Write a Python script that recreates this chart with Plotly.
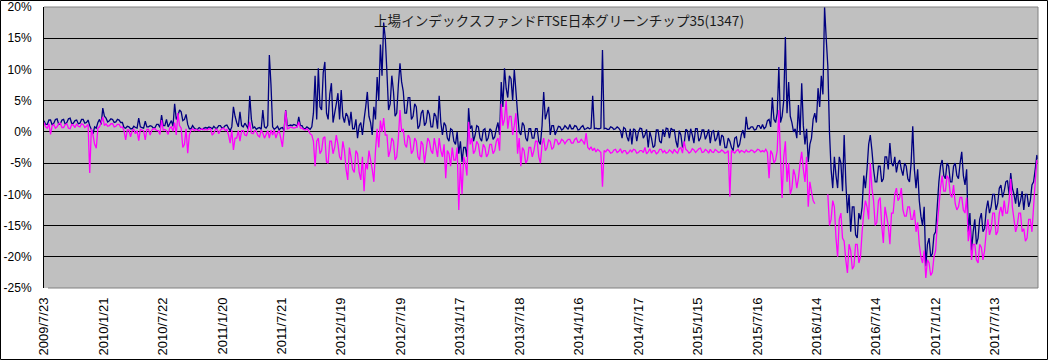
import plotly.graph_objects as go
import pandas as pd

TITLE = "上場インデックスファンドFTSE日本グリーンチップ35(1347)"
START_DATE = "2009-07-23"
END_DATE = "2017-11-21 12:00"

x_tick_dates = ["2009-07-23", "2010-01-21", "2010-07-22", "2011-01-20", "2011-07-21",
                "2012-01-19", "2012-07-19", "2013-01-17", "2013-07-18", "2014-01-16",
                "2014-07-17", "2015-01-15", "2015-07-16", "2016-01-14", "2016-07-14",
                "2017-01-12", "2017-07-13"]
x_tick_labels = ["2009/7/23", "2010/1/21", "2010/7/22", "2011/1/20", "2011/7/21",
                 "2012/1/19", "2012/7/19", "2013/1/17", "2013/7/18", "2014/1/16",
                 "2014/7/17", "2015/1/15", "2015/7/16", "2016/1/14", "2016/7/14",
                 "2017/1/12", "2017/7/13"]
y_tick_vals = [20, 15, 10, 5, 0, -5, -10, -15, -20, -25]
y_tick_labels = ["20%", "15%", "10%", "5%", "0%", "-5%", "-10%", "-15%", "-20%", "-25%"]

# navy series (%): values read on day 0, 10, 20, ... from START_DATE
navy_a = [
    1.8, 1.2, 1.9, 1.4, 2.1, 1.3, 2.0, 1.5, 2.2, 1.4,
    1.9, 1.4, 2.0, 1.5, 1.0, -0.3, 0.6, 2.0, 3.8, 2.2,
    1.8, 2.0, 1.6, 1.9, 1.5, 0.6, 0.8, 0.5, 0.7, 2.2,
    0.7, 1.7, 0.8, 0.9, 0.7, 1.2, 2.7, 1.0, 0.8, 1.8,
    4.5, 2.6, 3.2, 2.0, 1.2, 0.5, 0.6, 0.4, 0.5, 0.6,
    0.6, 0.7, 0.9, 0.6, 1.0, 0.7, 1.1, 0.2, 4.0, 1.5,
    3.2, 0.8, 1.0, 5.8, 0.6, 0.4, 0.7, 3.5, 0.6, 12.3,
    0.8, 0.6, 0.3, 0.7, 3.5, 1.0, 1.0, 1.1, 2.4, 1.0,
    0.5, 0.6, 0.8, 9.0, 10.2, 3.5, 11.2, 2.0, 7.8, 3.0,
    6.2, 6.7, 1.5, 2.5, 3.2, 0.5, -1.0, 1.5, 2.0, 6.4,
    1.5, 4.0, 8.8, 14.0, 17.5, 9.5, 4.5, 6.5, 3.0, 11.0,
    6.5, 3.0, 5.5, 2.5, 4.0, 1.0, 3.5, 1.5, 2.8, 0.8,
    2.5, 5.8, -0.5, 1.0, -1.5, 0.3, -2.0, -3.5, -4.8, -2.5,
    3.8, 1.0, -0.5, 0.8, -1.5, 0.5, -1.0, 0.2, -0.8, 1.5,
    8.0, 10.2, 5.5, 8.5, 10.0, 3.0, -0.5, 1.0, -1.5, 0.5,
    -1.0, 0.5, -2.0, 6.4, 3.0, -0.5, 1.0, 0.2, 0.8, 0.5,
    0.7, 1.2, 0.5, 0.9, 0.4, 1.0, 0.5, 0.5, 5.8, 0.6,
    0.5, 13.1, 0.6, 0.4, 0.7, 0.5, 0.6, -1.0, 0.5, -1.5,
    -2.0, 0.3, 0.0, 0.5, -0.5, -2.5, -1.0, -2.2, 0.3, -1.8,
    -0.8, 0.5, 0.6, 0.3, -2.5, -0.5, -2.0, 0.2, 0.5, -1.8,
    0.5, -1.0, 0.3, -0.5, -1.8, 0.2, -1.0, -2.2, -0.8, -2.5,
    -1.5, -3.0, -0.8, -2.0, 0.3, 2.4, 0.5, 0.8, 0.4, 1.0,
    1.2, 0.8, 2.0, 5.5, 1.5, 10.4, 2.5, 15.2, 8.0, 1.5,
    0.5, 4.3, 7.8, -2.0, -4.8, -1.0, 3.0, 7.0, 9.0, 20.0,
    10.5, -6.0, -4.0, -9.0, -5.0, -0.5, -13.0, -16.0, -12.0, -17.0,
    -14.0, -7.0, -6.0, -0.5, -6.0, -8.0, -5.5, -7.5, -4.0, -1.8,
    -5.5, -6.5, -4.5, -7.0, -5.5, -8.0, 0.9, -9.0, -11.0, -15.0,
    -21.5, -17.0, -19.5, -16.0, -8.0, -4.5, -7.5, -5.5, -8.0, -5.0,
    -7.5, -3.2, -8.5, -16.0, -19.0, -14.0, -17.0, -13.0, -15.5, -11.0,
    -12.0, -10.0, -11.5, -8.5, -9.5, -7.8, -6.6, -10.0, -9.0, -11.0,
    -12.5, -10.0, -11.0, -8.0, -3.7,
]
# navy series (%): values read on day 5, 15, 25, ... (other edge of the daily band)
navy_b = [
    1.2, 1.9, 1.1, 2.0, 1.2, 1.9, 1.2, 2.1, 1.3, 1.8,
    1.3, 2.0, 1.4, 1.9, 0.4, 0.8, 1.5, 1.2, 2.5, 1.6,
    2.1, 1.5, 2.0, 1.5, 0.7, 0.9, 0.5, 0.9, 0.6, 0.8,
    0.6, 0.8, 1.0, 0.6, 1.2, 0.7, 1.0, 2.0, 1.3, 0.9,
    2.0, 3.5, 1.8, 2.8, 0.5, 1.0, 0.4, 0.7, 0.4, 0.7,
    0.8, 0.5, 0.6, 1.0, 0.6, 1.0, 0.6, 0.8, 2.5, 0.8,
    1.0, 1.4, 0.5, 2.0, 0.8, 0.6, 0.4, 0.8, 1.0, 7.5,
    0.4, 0.9, 0.6, 0.2, 1.0, 1.1, 1.2, 0.9, 1.0, 0.5,
    0.8, 0.4, 3.0, 2.0, 4.0, 9.5, 3.0, 6.0, 1.5, 4.5,
    2.0, 2.5, 3.0, 1.0, 0.5, 2.0, 1.0, -0.5, 4.0, 2.5,
    -0.5, 2.0, 5.0, 9.0, 15.0, 3.5, 9.0, 2.5, 7.5, 8.0,
    3.0, 5.5, 2.0, 4.5, 0.5, 3.0, 1.0, 3.5, 0.8, 3.0,
    0.5, 1.5, 1.5, -1.0, 0.5, -1.5, 0.0, -1.5, -2.5, -4.0,
    0.5, -1.5, 1.0, -1.0, 0.3, -1.5, 0.5, -1.2, 0.5, -0.5,
    4.0, 7.0, 9.0, 5.0, 6.5, 0.0, 1.5, -1.0, 0.5, -1.0,
    0.5, -1.5, 1.0, 2.0, 4.0, 1.0, -0.5, 0.9, 0.3, 1.0,
    0.4, 0.5, 1.0, 0.3, 0.8, 0.4, 0.7, 0.6, 0.5, 0.5,
    0.6, 0.5, 0.4, 0.8, 0.4, 0.8, 0.2, 0.7, -0.8, 0.5,
    0.5, -1.5, 0.6, -1.0, 0.4, 0.0, -2.5, 0.3, -1.5, 0.4,
    0.6, -1.0, 0.3, -1.5, 0.2, -2.5, 0.4, -1.5, -0.5, 0.5,
    -1.5, 0.3, -1.2, 0.4, 0.0, -1.5, 0.2, -0.5, -2.5, -1.0,
    -2.5, -1.0, -2.5, -0.5, -1.0, 0.5, 0.8, 0.3, 1.0, 0.5,
    0.5, 1.8, 0.8, 2.0, 3.0, 1.5, 5.0, 3.0, 2.5, 0.0,
    -1.0, -0.5, 1.0, 0.5, -2.0, 2.0, 1.5, 4.0, 6.0, 15.0,
    0.0, -9.0, -7.0, -4.0, -9.5, -8.0, -10.0, -12.0, -16.5, -13.0,
    -12.0, -9.0, -2.0, -3.0, -8.0, -5.5, -8.0, -4.0, -6.0, -5.0,
    -4.0, -5.0, -6.0, -5.0, -7.5, -5.0, -6.0, -6.0, -13.5, -12.0,
    -18.0, -20.0, -16.5, -12.0, -5.5, -7.0, -5.0, -8.0, -5.5, -7.0,
    -5.0, -7.0, -6.0, -13.0, -16.0, -18.0, -14.0, -16.0, -12.5, -13.0,
    -10.0, -12.5, -9.0, -10.5, -8.0, -10.0, -9.0, -11.5, -12.0, -9.5,
    -10.0, -12.0, -8.5, -6.0, -4.5,
]

# magenta series (%): values read on day 0, 10, 20, ...
magenta_a = [
    1.5, 0.6, -0.4, 1.2, 0.8, 1.4, 0.7, 1.3, 0.5, 1.1,
    1.3, 0.8, 1.2, 0.9, -6.6, -0.5, -2.6, 0.8, 2.4, 1.3,
    1.0, 1.3, 0.9, 1.2, 0.8, -1.3, 0.3, 0.2, -0.3, -1.4,
    0.3, -1.3, 0.4, 0.3, 0.5, 0.2, 1.9, 0.4, -0.4, 0.8,
    1.5, 3.0, 0.6, -2.0, -3.4, 0.3, 0.2, 0.3, 0.4, 0.3,
    0.3, 0.5, -0.2, 0.4, 0.3, 0.6, 0.4, -1.8, -2.9, -1.0,
    -1.5, 0.2, -0.6, 1.6, -0.3, 0.1, -0.8, -0.2, -0.4, -1.0,
    -0.5, -1.0, 0.2, -2.4, 3.4, 0.6, 0.7, 0.7, 1.6, 0.6,
    0.3, 0.2, -0.5, -5.5, -1.0, -3.0, -0.8, -5.0, -1.5, -2.5,
    -2.0, -4.5, -3.0, -7.7, -4.0, -6.5, -3.5, -7.7, -9.5, -6.0,
    -4.5, -8.0, 0.5, 1.8, 2.2, -0.5, -3.0, -1.5, -4.0, 3.5,
    0.5, -2.5, -1.0, -3.0, -1.5, -4.5, -2.0, -3.0, -1.5, -3.5,
    -2.5, -1.0, -4.0, -7.4, -3.5, -2.5, -4.5, -12.5, -10.0, -5.0,
    1.6, -1.0, -3.0, -2.0, -4.0, -2.5, -3.5, -2.0, -3.0, -1.0,
    4.5, 2.0, 0.5, 2.5, 1.0, -3.5, -5.5, -3.0, -4.5, -2.5,
    -3.0, -1.5, -5.0, -1.0, -2.5, -1.5, -2.5, -1.3, -1.8, -1.4,
    -1.5, -1.2, -1.8, -1.0, -1.6, -1.5, -0.2, -2.8, -3.0, -3.2,
    -3.0, -8.8, -3.2, -3.0, -3.3, -2.8, -3.1, -3.4, -3.0, -3.3,
    -3.2, -2.9, -3.3, -3.0, -2.5, -3.2, -3.4, -3.0, -3.3, -2.8,
    -3.0, -3.3, -3.1, -2.8, -3.4, -2.5, -1.5, -3.0, -3.2, -2.9,
    -3.0, -2.6, -3.2, -3.0, -2.8, -3.3, -3.0, -3.2, -3.1, -3.3,
    -10.4, -3.2, -3.0, -3.3, -3.1, -2.9, -3.2, -3.0, -3.1, -2.9,
    -3.0, -2.8, -7.4, -3.5, -4.5, 3.5, -10.6, -1.5, -5.0, -9.0,
    -7.0, -7.4, -3.2, -8.0, -12.0, -9.6, -11.5, None, None, None,
    -10.0, -14.0, -12.0, -20.0, -13.0, -17.5, -22.6, -19.0, -21.5, -18.0,
    -20.0, -13.0, -12.0, -5.0, -11.0, -14.5, -10.5, -17.8, -13.5, -18.0,
    -13.0, -9.0, -10.5, -12.5, -13.5, -12.0, -14.0, -16.0, -18.0, -21.0,
    -23.4, -21.0, -22.5, -19.0, -12.0, -7.0, -9.5, -7.5, -10.5, -11.5,
    -12.0, -10.5, -13.0, -17.5, -20.5, -18.0, -21.0, -18.5, -19.0, -14.0,
    -15.5, -13.0, -16.0, -12.0, -11.0, -13.0, -7.5, -14.0, -15.0, -13.0,
    -15.5, -17.0, -14.0, -12.0, -4.5,
]
# magenta series (%): values read on day 5, 15, 25, ...
magenta_b = [
    0.8, 1.3, 1.0, 0.6, 1.3, 0.7, 1.2, 0.6, 1.2, 0.7,
    0.9, 1.3, 0.7, 1.2, 0.5, -2.0, 0.6, 1.5, 1.0, 0.9,
    1.3, 0.8, 1.2, 0.7, 0.2, 0.3, -0.8, 0.4, 0.2, 0.4,
    0.2, 0.4, -0.5, 0.5, 0.2, -0.4, 0.3, 0.2, 0.6, 0.1,
    -0.5, 1.0, -2.5, 0.5, -0.5, 0.5, 0.4, 0.2, 0.5, 0.4,
    0.5, -0.5, 0.4, -0.3, 0.5, 0.2, -0.5, 0.3, -1.0, 0.2,
    0.2, -0.5, 0.3, -0.2, 0.2, -0.6, 0.3, -1.0, 0.2, 0.3,
    0.3, -0.2, -1.0, 0.3, 0.5, 0.8, 0.6, 0.8, 0.6, 0.4,
    0.5, -0.3, -1.5, -1.5, -3.5, -1.0, -4.8, -1.5, -3.5, -0.5,
    -4.0, -1.5, -6.0, -2.5, -6.0, -3.0, -6.5, -4.0, -5.0, -3.0,
    -6.0, -3.0, -2.5, 0.0, -0.5, -4.0, -1.0, -4.5, -1.0, 0.0,
    -2.0, -0.5, -3.5, -1.0, -4.0, -1.5, -5.0, -1.0, -3.0, -1.0,
    -4.0, -3.0, -2.0, -3.0, -5.5, -4.5, -2.5, -5.0, -4.0, -7.0,
    -2.0, -3.5, -1.5, -3.8, -2.0, -4.0, -2.0, -3.5, -1.5, -3.0,
    1.0, 5.0, 2.5, -0.5, 3.0, -1.0, -2.5, -5.0, -2.5, -4.0,
    -1.5, -4.0, -2.0, -3.0, -1.3, -2.8, -1.2, -2.0, -1.2, -1.9,
    -1.2, -1.8, -1.2, -1.7, -1.2, -2.0, -2.5, -2.4, -2.6, -2.8,
    -3.3, -3.0, -2.8, -3.4, -2.9, -3.3, -2.7, -3.0, -3.5, -2.9,
    -2.8, -3.4, -3.0, -3.3, -3.5, -2.7, -3.0, -3.5, -2.8, -3.3,
    -3.4, -2.9, -3.4, -3.2, -2.7, -3.4, -2.8, -3.4, -2.7, -3.3,
    -2.7, -3.3, -2.8, -3.4, -3.2, -2.8, -3.3, -2.9, -3.4, -3.0,
    -3.0, -3.4, -2.8, -3.0, -3.3, -3.2, -2.9, -3.3, -2.8, -3.2,
    -3.2, -3.3, -3.0, -5.0, -3.0, -4.0, -4.0, -8.0, -10.0, -6.0,
    -9.0, -5.0, -6.0, -4.0, -8.0, -11.0, None, None, None, None,
    -15.0, -11.0, -17.0, -14.0, -17.0, -20.5, -18.0, -22.0, -18.0, -21.0,
    -16.0, -11.0, -14.0, -9.0, -15.0, -11.0, -15.0, -12.0, -15.0, -13.0,
    -10.0, -11.0, -9.0, -13.5, -12.0, -14.0, -12.5, -14.5, -20.0, -19.0,
    -20.5, -23.0, -20.0, -15.0, -9.0, -9.5, -7.0, -10.0, -8.5, -12.5,
    -10.5, -12.5, -10.5, -15.0, -18.0, -20.5, -18.0, -20.5, -16.0, -16.5,
    -13.0, -16.5, -13.0, -13.5, -13.0, -11.0, -12.0, -16.0, -13.0, -16.0,
    -17.5, -14.0, -16.0, -8.0, -5.0,
]


def interleave(a, b):
    out = []
    for va, vb in zip(a, b):
        out.extend([va, vb])
    return out


navy = interleave(navy_a, navy_b)
magenta = interleave(magenta_a, magenta_b)
dates = pd.date_range(START_DATE, periods=len(navy), freq="5D")

fig = go.Figure()
fig.add_trace(go.Scatter(x=dates, y=navy, mode="lines",
                         line=dict(color="#000080", width=1.3, simplify=False), name="navy"))
fig.add_trace(go.Scatter(x=dates, y=magenta, mode="lines", connectgaps=False,
                         line=dict(color="#FF00FF", width=1.3, simplify=False), name="magenta"))

DAY_MS = 86400000
fig.update_layout(
    width=1048, height=360,
    margin=dict(l=44, r=10, t=7, b=72, pad=0),
    paper_bgcolor="white", plot_bgcolor="#C0C0C0",
    showlegend=False,
    xaxis=dict(type="date", range=[START_DATE, END_DATE], automargin=False,
               tickvals=x_tick_dates, ticktext=x_tick_labels,
               tickangle=-90, ticks="", showgrid=False, zeroline=False,
               showline=False, ticklabelstandoff=6,
               tickfont=dict(family="Liberation Sans, Arial", size=13, color="black")),
    xaxis2=dict(type="date", range=[START_DATE, END_DATE], overlaying="x",
                anchor="free", position=25 / 45, side="bottom", automargin=False,
                tick0=START_DATE, dtick=40.57 * DAY_MS,
                ticks="inside", ticklen=4, tickcolor="black", tickwidth=1,
                showticklabels=False, showgrid=False, zeroline=False,
                showline=False, layer="below traces"),
    yaxis=dict(range=[-25, 20], tickvals=y_tick_vals, ticktext=y_tick_labels,
               automargin=False,
               showgrid=True, gridcolor="black", gridwidth=1,
               zeroline=True, zerolinecolor="black", zerolinewidth=1,
               showline=True, linecolor="black", linewidth=1,
               ticks="inside", ticklen=5, tickcolor="black",
               ticklabelstandoff=9,
               tickfont=dict(family="Liberation Sans, Arial", size=12, color="black")),
    annotations=[dict(text=TITLE, xref="paper", yref="paper", x=0.518, y=0.955,
                      xanchor="center", yanchor="middle", showarrow=False,
                      font=dict(family="Noto Sans CJK JP", size=13.6, color="#1a1a1a"))],
    shapes=[
        dict(type="line", xref="paper", yref="paper", x0=0, x1=1, y0=1, y1=1,
             line=dict(color="#808080", width=1), layer="above"),
        dict(type="line", xref="paper", yref="paper", x0=1, x1=1, y0=0, y1=1,
             line=dict(color="#808080", width=1), layer="above"),
        dict(type="line", xref="paper", yref="paper", x0=0.004, x1=1, y0=0, y1=0,
             line=dict(color="#808080", width=1), layer="above"),
        dict(type="rect", xref="paper", yref="paper",
             x0=(0.5 - 44) / 994, x1=(1047.5 - 44) / 994,
             y0=1 - (359.5 - 7) / 281, y1=1 - (0.5 - 7) / 281,
             line=dict(color="black", width=1), fillcolor="rgba(0,0,0,0)", layer="above"),
    ],
)

fig.write_html("out.html", config={"displayModeBar": False},
               post_script="document.body.style.margin='0';document.body.style.overflow='hidden';")
